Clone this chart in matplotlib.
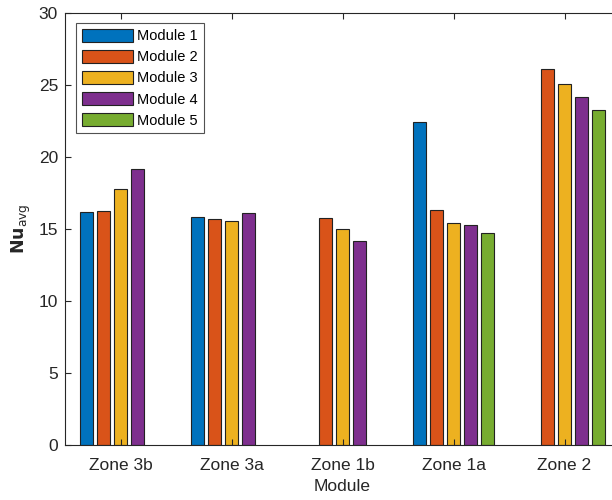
import numpy as np
import matplotlib.pyplot as plt

plt.rcParams['font.family'] = ['Liberation Sans', 'DejaVu Sans']

zones = ["Zone 3b", "Zone 3a", "Zone 1b", "Zone 1a", "Zone 2"]
modules = ["Module 1", "Module 2", "Module 3", "Module 4", "Module 5"]

# Nu_avg per zone for each module (nan = no data)
nu_m1 = [16.2, 15.83, np.nan, 22.45, np.nan]
nu_m2 = [16.27, 15.69, 15.76, 16.34, 26.09]
nu_m3 = [17.8, 15.58, 14.98, 15.44, 25.1]
nu_m4 = [19.15, 16.11, 14.2, 15.25, 24.19]
nu_m5 = [np.nan, np.nan, np.nan, 14.7, 23.29]
series = [nu_m1, nu_m2, nu_m3, nu_m4, nu_m5]

colors = ["#0072BD", "#D95319", "#EDB120", "#7E2F8E", "#77AC30"]
axcol = "#262626"

fig = plt.figure(figsize=(6.12, 5.0), dpi=100)
ax = fig.add_axes([65 / 612, 55 / 500, 555 / 612, 432 / 500])

x = np.arange(1, len(zones) + 1)
n = len(series)
group_w = min(0.8, n / (n + 1.5))
pitch = group_w / n
for i, (vals, c, lab) in enumerate(zip(series, colors, modules)):
    off = -group_w / 2 + pitch * (i + 0.5)
    ax.bar(x + off, vals, width=pitch * 0.8, color=c, edgecolor="#222222",
           linewidth=0.8, label=lab)

ax.set_xlim(0.5, 5.5)
ax.set_ylim(0, 30)
ax.set_xticks(x)
ax.set_xticklabels(zones)
ax.set_yticks(range(0, 31, 5))
ax.tick_params(direction="in", top=True, right=True, length=4, width=0.8,
               colors=axcol, labelsize=12.5)
ax.tick_params(axis="x", pad=9)
ax.tick_params(axis="y", pad=5)
for s in ax.spines.values():
    s.set_color(axcol)
    s.set_linewidth(0.8)

ax.set_xlabel("Module", fontsize=12.5, color=axcol, labelpad=5)
ax.set_ylabel(r"$\mathbf{Nu}_{\mathrm{avg}}$", fontsize=12.5, color=axcol, labelpad=4)

leg = ax.legend(loc="upper left", bbox_to_anchor=(0.02, 0.977), fontsize=10.5,
                frameon=True, fancybox=False, edgecolor=axcol, handlelength=3.5,
                handleheight=1.0, handletextpad=0.3, labelspacing=0.45,
                borderpad=0.4, borderaxespad=0)
leg.get_frame().set_linewidth(0.8)

fig.savefig("out.png", dpi=100)
